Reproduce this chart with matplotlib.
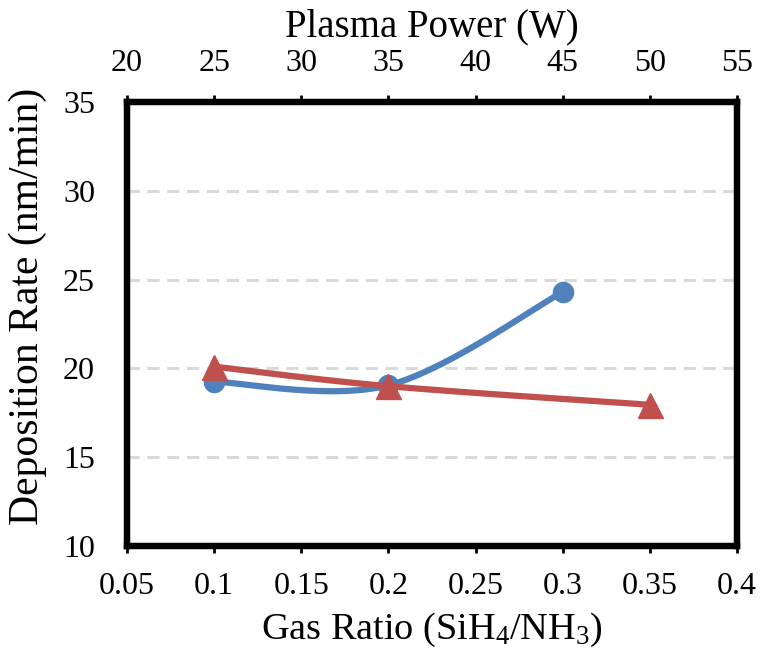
import numpy as np
import matplotlib
matplotlib.use("Agg")
import matplotlib.pyplot as plt

plt.rcParams["font.family"] = ["Liberation Serif", "DejaVu Serif"]
plt.rcParams["mathtext.fontset"] = "custom"
plt.rcParams["mathtext.rm"] = "Liberation Serif"
plt.rcParams["mathtext.it"] = "Liberation Serif"
plt.rcParams["mathtext.default"] = "regular"

# Deposition rate vs. gas ratio (bottom axis)
gas_ratio = [0.1, 0.2, 0.3]
rate_gas = [19.25, 19.05, 24.3]

# Deposition rate vs. plasma power (top axis)
plasma_power = [25, 35, 50]
rate_power = [20.1, 19.0, 17.95]

bottom_ticks = [0.05, 0.1, 0.15, 0.2, 0.25, 0.3, 0.35, 0.4]
bottom_labels = ["0.05", "0.1", "0.15", "0.2", "0.25", "0.3", "0.35", "0.4"]
top_ticks = [20, 25, 30, 35, 40, 45, 50, 55]
y_ticks = [10, 15, 20, 25, 30, 35]

BLUE = "#4F81BD"
RED = "#C0504D"


def smooth(xs, ys, n=60):
    """Spreadsheet-style smoothed line through points (cubic Bezier segments)."""
    p = np.column_stack([xs, ys]).astype(float)
    out = []
    for i in range(len(p) - 1):
        p0 = p[i - 1] if i > 0 else p[i]
        p1, p2 = p[i], p[i + 1]
        p3 = p[i + 2] if i + 2 < len(p) else p[i + 1]
        c1 = p1 + (p2 - p0) / 6.0
        c2 = p2 - (p3 - p1) / 6.0
        t = np.linspace(0, 1, n)[:, None]
        seg = ((1 - t) ** 3) * p1 + 3 * ((1 - t) ** 2) * t * c1 + 3 * (1 - t) * t ** 2 * c2 + t ** 3 * p2
        out.append(seg if i == 0 else seg[1:])
    pts = np.vstack(out)
    return pts[:, 0], pts[:, 1]


fig = plt.figure(figsize=(7.61, 6.55), dpi=100)
ax = fig.add_axes([0.1669, 0.1664, 0.8016, 0.6779])
ax2 = ax.twiny()

ax.set_xlim(0.05, 0.4)
ax.set_ylim(10, 35)
ax2.set_xlim(20, 55)

for y in y_ticks[1:-1]:
    ax.axhline(y, color="#D9D9D9", lw=2.2, dashes=(4, 2.5), zorder=0)

sx, sy = smooth(gas_ratio, rate_gas)
ax.plot(sx, sy, color=BLUE, lw=4.5, solid_capstyle="round", zorder=3)
ax.plot(gas_ratio, rate_gas, "o", color=BLUE, ms=14.5, zorder=4)

px, py = smooth(plasma_power, rate_power)
ax2.plot(px, py, color=RED, lw=4.5, solid_capstyle="round", zorder=5)
ax2.plot(plasma_power, rate_power, "^", color=RED, ms=18, zorder=6)

ax.set_xticks(bottom_ticks)
ax.set_xticklabels(bottom_labels)
ax.set_yticks(y_ticks)
ax2.set_xticks(top_ticks)

for a in (ax, ax2):
    for s in a.spines.values():
        s.set_linewidth(4.5)
        s.set_color("black")

ax.tick_params(axis="x", direction="out", length=5, width=2, labelsize=23, pad=14)
ax.tick_params(axis="y", length=0, labelsize=23, pad=23)
ax2.tick_params(axis="x", direction="out", length=5, width=2, labelsize=23, pad=12)

ax.set_xlabel("Gas Ratio (SiH$_4$/NH$_3$)", fontsize=27.5, labelpad=7)
ax.set_ylabel("Deposition Rate (nm/min)", fontsize=30)
ax.yaxis.set_label_coords(-0.131, 0.54)
ax2.set_xlabel("Plasma Power (W)", fontsize=28, labelpad=9)

fig.savefig("out.png", dpi=100, facecolor="white")
